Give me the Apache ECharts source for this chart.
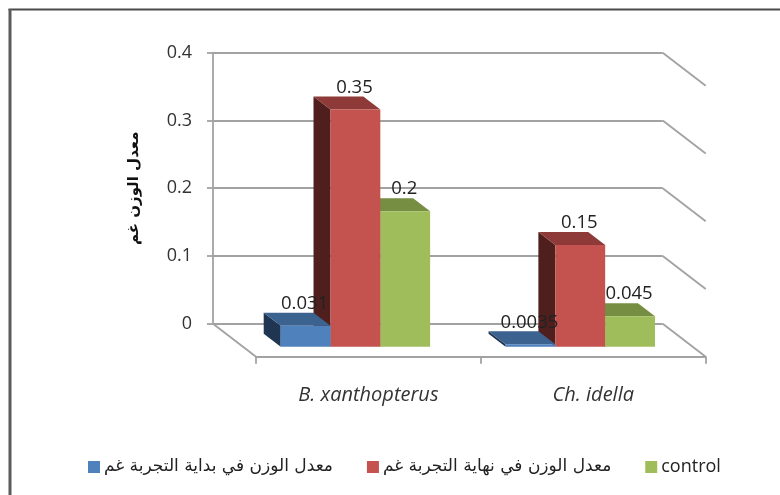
<!DOCTYPE html>
<html><head><meta charset="utf-8">
<style>html,body{margin:0;padding:0;background:#fff}#c{width:780px;height:495px}</style>
<script src="https://cdn.jsdelivr.net/npm/echarts@6/dist/echarts.min.js"></script>
</head><body><div id="c"></div>
<script>
var categories = ['B. xanthopterus', 'Ch. idella'];
var startWeight = [0.031, 0.0035];
var endWeight = [0.35, 0.15];
var control = [0.2, 0.045];
var yTicks = [0, 0.1, 0.2, 0.3, 0.4];
var startName = 'معدل الوزن في بداية التجربة غم';
var endName = 'معدل الوزن في نهاية التجربة غم';
var controlName = 'control';
var yTitle = 'معدل الوزن غم';

var WALL = {left: 213, top: 52.7, width: 449.7, height: 271};
var DEPTH = {dx: 43, dy: 33};
var FRONT = {dx: 13, dy: 10};   // bar front plane, behind the front edge of the floor
var BACK = {dx: 30, dy: 23};    // bar back plane
var BAR_FRAC = 0.2215;
var LINE = '#a2a2a2';
var LW = 1.8;
var LABEL_FONT = '"Open Sans"';

function barItem(slot, front, top, side) {
  return function (params, api) {
    var cat = api.value(0), val = api.value(1);
    var base = api.coord([cat, 0]), head = api.coord([cat, val]);
    var w = api.size([1, 0])[0] * BAR_FRAC;
    var x0 = base[0] + (slot - 1.5) * w - FRONT.dx, x1 = x0 + w;
    var yb = base[1] - FRONT.dy, yt = head[1] - FRONT.dy;
    var bx = BACK.dx - FRONT.dx, by = BACK.dy - FRONT.dy;
    function poly(points, fill) {
      return {type: 'polygon', silent: true, shape: {points: points}, style: {fill: fill}};
    }
    return {type: 'group', children: [
      poly([[x0, yb], [x0, yt], [x0 - bx, yt - by], [x0 - bx, yb - by]], side),
      poly([[x0, yt], [x1, yt], [x1 - bx, yt - by], [x0 - bx, yt - by]], top),
      poly([[x0, yb], [x1, yb], [x1, yt], [x0, yt]], front)
    ]};
  };
}
function rows(values, slot) {
  return values.map(function (v, i) { return [i, v, slot]; });
}
function barSeries(name, values, slot, z, front, top, side) {
  return {
    name: name, type: 'custom', xAxisIndex: 1, yAxisIndex: 1, z: z,
    renderItem: barItem(slot, front, top, side),
    itemStyle: {color: front}, encode: {x: 0, y: 1},
    data: rows(values, slot)
  };
}
var labelRows = rows(startWeight, 0).concat(rows(endWeight, 1), rows(control, 2));

var option = {
  animation: false,
  backgroundColor: '#fff',
  textStyle: {fontFamily: LABEL_FONT},
  graphic: [
    {type: 'line', silent: true, z: -1, shape: {x1: 8.5, y1: 9.5, x2: 780, y2: 9.5},
     style: {stroke: '#4a4a4a', lineWidth: 2}},
    {type: 'line', silent: true, z: -1, shape: {x1: 10, y1: 9, x2: 10, y2: 495},
     style: {stroke: '#5a5a5a', lineWidth: 3}}
  ],
  legend: {
    data: [startName, endName, {name: controlName, textStyle: {fontFamily: LABEL_FONT, fontSize: 18}}],
    left: 83, top: 453, itemWidth: 12, itemHeight: 12, itemGap: 34,
    icon: 'rect',
    textStyle: {fontFamily: '"DejaVu Sans"', fontSize: 17, color: '#222', padding: [0, 0, 0, -1]}
  },
  grid: [
    {left: WALL.left, top: WALL.top, width: WALL.width, height: WALL.height},
    {left: WALL.left + DEPTH.dx, top: WALL.top + DEPTH.dy, width: WALL.width, height: WALL.height}
  ],
  xAxis: [
    {type: 'category', gridIndex: 0, data: categories, show: false},
    {type: 'category', gridIndex: 1, data: categories,
     axisLine: {show: true, lineStyle: {color: LINE, width: LW}},
     axisTick: {show: true, alignWithLabel: false, interval: 0, length: 7, lineStyle: {color: LINE, width: LW}},
     axisLabel: {fontFamily: LABEL_FONT, fontStyle: 'italic', fontSize: 20, color: '#333', margin: 29}}
  ],
  yAxis: [
    {type: 'value', gridIndex: 0, min: 0, max: 0.4, interval: 0.1,
     name: yTitle, nameLocation: 'middle', nameGap: 71, nameRotate: 90,
     nameTextStyle: {fontFamily: '"DejaVu Sans"', fontWeight: 'bold', fontSize: 15, color: '#111'},
     axisLine: {show: true, lineStyle: {color: LINE, width: LW}},
     axisTick: {show: true, length: 6, lineStyle: {color: LINE, width: LW}},
     axisLabel: {fontFamily: LABEL_FONT, fontSize: 18, color: '#333', margin: 21, padding: [2, 0, 0, 0],
       formatter: function (v) { return String(v); }},
     splitLine: {show: true, lineStyle: {color: LINE, width: LW}}},
    {type: 'value', gridIndex: 1, min: 0, max: 0.4, interval: 0.1, show: false, splitLine: {show: false}}
  ],
  series: [
    {
      name: 'wall', type: 'custom', xAxisIndex: 0, yAxisIndex: 0, z: 1, silent: true,
      encode: {y: 0},
      data: yTicks.map(function (t) { return [t]; }),
      renderItem: function (params, api) {
        var cs = params.coordSys, v = api.value(0), y = api.coord([0, v])[1];
        var xr = cs.x + cs.width;
        var lines = [{type: 'line', shape: {x1: xr, y1: y, x2: xr + DEPTH.dx, y2: y + DEPTH.dy},
          style: {stroke: LINE, lineWidth: LW}}];
        if (v === 0) {
          lines.push({type: 'line', shape: {x1: cs.x, y1: y, x2: cs.x + DEPTH.dx, y2: y + DEPTH.dy},
            style: {stroke: LINE, lineWidth: LW}});
        }
        return {type: 'group', children: lines};
      }
    },
    barSeries(startName, startWeight, 0, 5, '#4F81BD', '#3C6290', '#1F3552'),
    barSeries(endName, endWeight, 1, 4, '#C4524F', '#8E3A38', '#4F1F1D'),
    barSeries(controlName, control, 2, 3, '#9FBE5B', '#768E42', '#4E5E2C'),
    {
      name: 'labels', type: 'custom', xAxisIndex: 1, yAxisIndex: 1, z: 10, silent: true,
      encode: {x: 0, y: 1},
      data: labelRows,
      renderItem: function (params, api) {
        var cat = api.value(0), val = api.value(1), slot = api.value(2);
        var p = api.coord([cat, val]);
        var w = api.size([1, 0])[0] * BAR_FRAC;
        return {type: 'text', silent: true, style: {
          text: String(val),
          x: p[0] + (slot - 1) * w - FRONT.dx - 1,
          y: p[1] - FRONT.dy - 22,
          align: 'center', verticalAlign: 'middle',
          fontFamily: LABEL_FONT, fontSize: 18.5, fill: '#222'
        }};
      }
    }
  ]
};
echarts.init(document.getElementById('c'), null, {renderer: 'canvas'}).setOption(option);
</script></body></html>
